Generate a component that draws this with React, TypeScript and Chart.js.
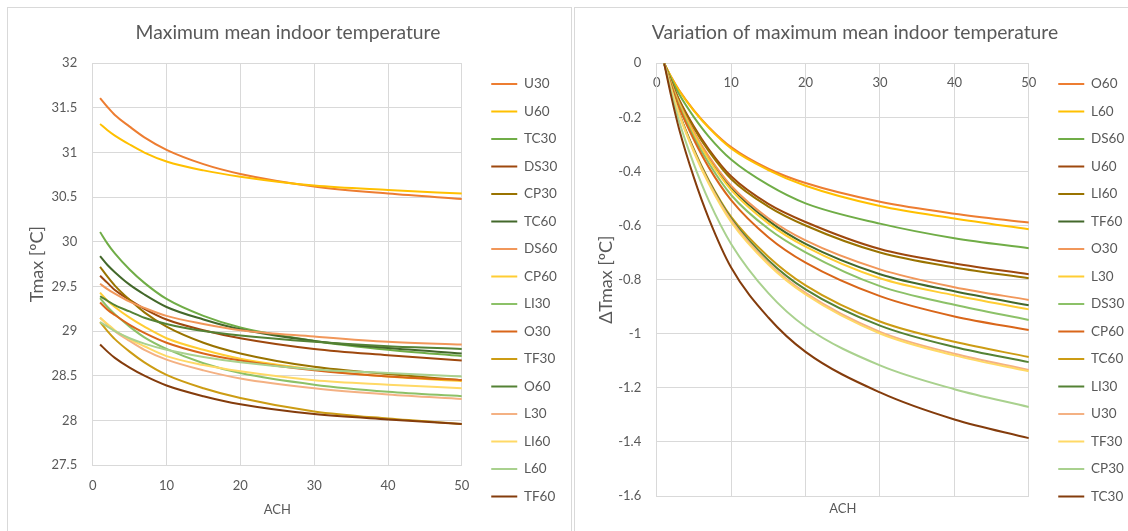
import React, { useEffect, useRef } from 'react';
import { Chart, registerables } from 'chart.js';

Chart.register(...registerables);

// ---------- DATA ----------
const ACH = [1, 2, 3, 5, 7, 10, 15, 20, 30, 40, 50];

// Left panel: Maximum mean indoor temperature, Tmax [ºC]
const tmaxU30 = [31.61, 31.51, 31.42, 31.29, 31.17, 31.03, 30.87, 30.76, 30.62, 30.54, 30.48];
const tmaxU60 = [31.32, 31.25, 31.19, 31.09, 31.0, 30.9, 30.8, 30.73, 30.63, 30.58, 30.54];
const tmaxTC30 = [30.11, 29.98, 29.87, 29.69, 29.54, 29.36, 29.17, 29.04, 28.89, 28.79, 28.72];
const tmaxDS30 = [29.62, 29.54, 29.46, 29.35, 29.25, 29.13, 29.01, 28.92, 28.8, 28.73, 28.67];
const tmaxCP30 = [29.72, 29.61, 29.51, 29.35, 29.21, 29.05, 28.87, 28.75, 28.6, 28.52, 28.45];
const tmaxTC60 = [29.84, 29.74, 29.66, 29.52, 29.41, 29.27, 29.13, 29.02, 28.89, 28.81, 28.75];
const tmaxDS60 = [29.53, 29.47, 29.42, 29.33, 29.26, 29.17, 29.08, 29.01, 28.94, 28.88, 28.85];
const tmaxCP60 = [29.43, 29.34, 29.27, 29.15, 29.05, 28.92, 28.79, 28.69, 28.57, 28.49, 28.44];
const tmaxLI30 = [29.37, 29.27, 29.19, 29.05, 28.93, 28.8, 28.64, 28.53, 28.4, 28.32, 28.27];
const tmaxO30 = [29.32, 29.24, 29.18, 29.07, 28.98, 28.87, 28.75, 28.67, 28.56, 28.49, 28.45];
const tmaxTF30 = [29.1, 29.0, 28.91, 28.77, 28.65, 28.51, 28.36, 28.25, 28.1, 28.02, 27.96];
const tmaxO60 = [29.39, 29.34, 29.29, 29.22, 29.15, 29.08, 29.0, 28.95, 28.88, 28.83, 28.8];
const tmaxL30 = [29.15, 29.07, 29.0, 28.89, 28.79, 28.68, 28.56, 28.47, 28.36, 28.29, 28.24];
const tmaxLI60 = [29.15, 29.08, 29.01, 28.91, 28.83, 28.72, 28.62, 28.55, 28.45, 28.4, 28.36];
const tmaxL60 = [29.1, 29.05, 29.0, 28.92, 28.86, 28.79, 28.71, 28.65, 28.57, 28.53, 28.49];
const tmaxTF60 = [28.85, 28.77, 28.7, 28.59, 28.5, 28.39, 28.27, 28.18, 28.07, 28.01, 27.96];

const leftNames = ['U30', 'U60', 'TC30', 'DS30', 'CP30', 'TC60', 'DS60', 'CP60', 'LI30', 'O30', 'TF30', 'O60', 'L30', 'LI60', 'L60', 'TF60'];
const leftValues = [tmaxU30, tmaxU60, tmaxTC30, tmaxDS30, tmaxCP30, tmaxTC60, tmaxDS60, tmaxCP60, tmaxLI30, tmaxO30, tmaxTF30, tmaxO60, tmaxL30, tmaxLI60, tmaxL60, tmaxTF60];

// Right panel: Variation of maximum mean indoor temperature, ΔTmax [ºC]
const dO60 = [0, -0.053, -0.099, -0.174, -0.236, -0.31, -0.39, -0.443, -0.512, -0.556, -0.589];
const dL60 = [0, -0.054, -0.101, -0.176, -0.239, -0.315, -0.395, -0.453, -0.528, -0.574, -0.614];
const dDS60 = [0, -0.061, -0.114, -0.199, -0.271, -0.356, -0.45, -0.518, -0.593, -0.647, -0.684];
const dU60 = [0, -0.071, -0.134, -0.234, -0.318, -0.418, -0.52, -0.587, -0.687, -0.74, -0.78];
const dLI60 = [0, -0.073, -0.137, -0.24, -0.325, -0.428, -0.53, -0.6, -0.7, -0.755, -0.795];
const dTF60 = [0, -0.078, -0.147, -0.258, -0.35, -0.46, -0.582, -0.668, -0.78, -0.843, -0.895];
const dO30 = [0, -0.077, -0.145, -0.254, -0.344, -0.453, -0.573, -0.655, -0.762, -0.828, -0.875];
const dL30 = [0, -0.08, -0.15, -0.262, -0.356, -0.468, -0.592, -0.678, -0.795, -0.858, -0.91];
const dDS30 = [0, -0.083, -0.156, -0.273, -0.37, -0.487, -0.612, -0.699, -0.824, -0.893, -0.949];
const dCP60 = [0, -0.086, -0.162, -0.283, -0.385, -0.506, -0.643, -0.737, -0.861, -0.936, -0.986];
const dTC60 = [0, -0.097, -0.182, -0.318, -0.432, -0.568, -0.715, -0.821, -0.955, -1.03, -1.086];
const dLI30 = [0, -0.098, -0.184, -0.321, -0.436, -0.574, -0.728, -0.836, -0.97, -1.049, -1.105];
const dU30 = [0, -0.099, -0.186, -0.325, -0.441, -0.58, -0.738, -0.849, -0.993, -1.074, -1.134];
const dTF30 = [0, -0.1, -0.188, -0.329, -0.446, -0.587, -0.744, -0.855, -0.999, -1.08, -1.139];
const dCP30 = [0, -0.114, -0.214, -0.374, -0.508, -0.668, -0.85, -0.974, -1.117, -1.205, -1.271];
const dTC30 = [0, -0.128, -0.242, -0.423, -0.574, -0.755, -0.94, -1.067, -1.217, -1.317, -1.386];

const rightNames = ['O60', 'L60', 'DS60', 'U60', 'LI60', 'TF60', 'O30', 'L30', 'DS30', 'CP60', 'TC60', 'LI30', 'U30', 'TF30', 'CP30', 'TC30'];
const rightValues = [dO60, dL60, dDS60, dU60, dLI60, dTF60, dO30, dL30, dDS30, dCP60, dTC60, dLI30, dU30, dTF30, dCP30, dTC30];

// ---------- STYLE ----------
const palette = [
  '#ED7D31', '#FFC000', '#70AD47', '#9E480E', '#997300', '#43682B',
  '#F1975A', '#FFCD33', '#8CC168', '#D9661A', '#CC9C14', '#548235',
  '#F4B183', '#FFD966', '#A9D18E', '#843C0C',
];
const FONT = "Lato, 'Noto Sans', sans-serif";
const TEXT = '#595959';
const GRID = '#d9d9d9';
const LEGEND_WIDTH = 87.75;

Chart.defaults.font.family = FONT;
Chart.defaults.color = TEXT;

const fmt = (v: any) => String(Math.round(Number(v) * 10) / 10);

// keeps the legend box at a fixed width so its position does not depend on text metrics
const fixedLegendWidth = {
  id: 'fixedLegendWidth',
  beforeLayout(chart: any) {
    const lg = chart.legend;
    if (lg && !lg.__fixedWidth) {
      const orig = lg.fit.bind(lg);
      lg.fit = () => {
        orig();
        lg.width = LEGEND_WIDTH;
      };
      lg.__fixedWidth = true;
    }
  },
};

function buildDatasets(names: string[], values: number[][]) {
  const n = names.length;
  return names.map((name, i) => ({
    label: name,
    data: ACH.map((a, k) => ({ x: a, y: values[i][k] })),
    borderColor: palette[i],
    backgroundColor: palette[i],
    borderWidth: 2,
    pointRadius: 0,
    pointHoverRadius: 0,
    cubicInterpolationMode: 'monotone' as const,
    fill: false,
    order: n - i,
    xAxisID: 'x',
    yAxisID: 'y',
  }));
}

function legendOptions() {
  return {
    position: 'right' as const,
    align: 'start' as const,
    title: { display: true, text: '', padding: { top: 43.25, bottom: 0 }, font: { size: 10 } },
    labels: {
      usePointStyle: true,
      pointStyle: 'line',
      pointStyleWidth: 26,
      padding: 14,
      color: TEXT,
      font: { family: FONT, size: 13.5 },
      sort: (a: any, b: any) => a.datasetIndex - b.datasetIndex,
    },
  };
}

const padAxis = {
  type: 'linear' as const,
  position: 'right' as const,
  display: true,
  grid: { display: false, drawTicks: false },
  border: { display: false },
  ticks: { display: false },
  afterFit: (s: any) => { s.width = 15.4; },
};

const titleFont = { family: FONT, size: 19.3, weight: 'normal' as const };

function leftConfig(): any {
  return {
    type: 'line',
    data: { datasets: buildDatasets(leftNames, leftValues) },
    plugins: [fixedLegendWidth],
    options: {
      animation: false,
      responsive: false,
      events: [],
      layout: { padding: { left: 3, right: 6, top: 0, bottom: 0 } },
      plugins: {
        title: {
          display: true,
          text: 'Maximum mean indoor temperature',
          color: TEXT,
          font: titleFont,
          padding: { top: 13.2, bottom: 18.9 },
        },
        legend: legendOptions(),
        tooltip: { enabled: false },
      },
      scales: {
        x: {
          type: 'linear',
          min: 0,
          max: 50,
          ticks: { stepSize: 10, padding: 12.9, color: TEXT, font: { size: 13 } },
          grid: { color: GRID, drawTicks: false },
          border: { color: GRID },
          title: { display: true, text: 'ACH', color: TEXT, font: { size: 13 }, padding: { top: 0, bottom: 13.6 } },
          afterFit: (s: any) => { s.height = 66; },
        },
        y: {
          type: 'linear',
          min: 27.5,
          max: 32,
          ticks: { stepSize: 0.5, padding: 15.5, color: TEXT, font: { size: 13 }, callback: fmt },
          grid: { color: GRID, drawTicks: false },
          border: { color: GRID },
          title: { display: true, text: 'Tmax [ºC]', color: TEXT, font: { size: 18 }, padding: { top: 15.2, bottom: 0 } },
          afterFit: (s: any) => { s.width = 81.7; },
        },
        pad: padAxis,
      },
    },
  };
}

function rightConfig(): any {
  return {
    type: 'line',
    data: { datasets: buildDatasets(rightNames, rightValues) },
    plugins: [fixedLegendWidth],
    options: {
      animation: false,
      responsive: false,
      events: [],
      layout: { padding: { left: 3, right: 6, top: 0, bottom: 0 } },
      plugins: {
        title: {
          display: true,
          text: 'Variation of maximum mean indoor temperature',
          color: TEXT,
          font: titleFont,
          padding: { top: 13.2, bottom: 18.9 },
        },
        legend: legendOptions(),
        tooltip: { enabled: false },
      },
      scales: {
        x: {
          type: 'linear',
          min: 0,
          max: 50,
          ticks: { stepSize: 10, display: false },
          grid: { color: GRID, drawTicks: false },
          border: { color: GRID },
          title: { display: true, text: 'ACH', color: TEXT, font: { size: 13 }, padding: { top: 0, bottom: 14.6 } },
          afterFit: (s: any) => { s.height = 35; },
        },
        x2: {
          type: 'linear',
          position: { y: 0 },
          min: 0,
          max: 50,
          ticks: { stepSize: 10, padding: 12.2, color: TEXT, font: { size: 13 } },
          grid: { display: false, drawTicks: false },
          border: { display: false },
        },
        y: {
          type: 'linear',
          min: -1.6,
          max: 0,
          ticks: { stepSize: 0.2, padding: 15.5, color: TEXT, font: { size: 13 }, callback: fmt },
          grid: { color: GRID, drawTicks: false },
          border: { color: GRID },
          title: { display: true, text: 'ΔTmax [ºC]', color: TEXT, font: { size: 18 }, padding: { top: 17.2, bottom: 0 } },
          afterFit: (s: any) => { s.width = 78.7; },
        },
        pad: padAxis,
      },
    },
  };
}

function ChartCanvas({ make }: { make: () => any }) {
  const ref = useRef<HTMLCanvasElement | null>(null);
  useEffect(() => {
    if (!ref.current) return;
    const chart = new Chart(ref.current, make());
    return () => chart.destroy();
  }, [make]);
  return <canvas ref={ref} width={563} height={523} style={{ display: 'block', width: 563, height: 523 }} />;
}

const panelStyle: React.CSSProperties = {
  position: 'absolute',
  top: 0,
  width: 565,
  height: 545,
  boxSizing: 'border-box',
  border: '1px solid #d9d9d9',
  background: '#ffffff',
};

export default function App() {
  useEffect(() => {
    document.documentElement.style.overflow = 'hidden';
  }, []);
  return (
    <div style={{ position: 'fixed', left: 7, top: 7, width: 1121, height: 524, overflow: 'hidden', background: '#ffffff' }}>
      <div style={{ ...panelStyle, left: 0 }}>
        <ChartCanvas make={leftConfig} />
      </div>
      <div style={{ ...panelStyle, left: 567 }}>
        <ChartCanvas make={rightConfig} />
      </div>
    </div>
  );
}
